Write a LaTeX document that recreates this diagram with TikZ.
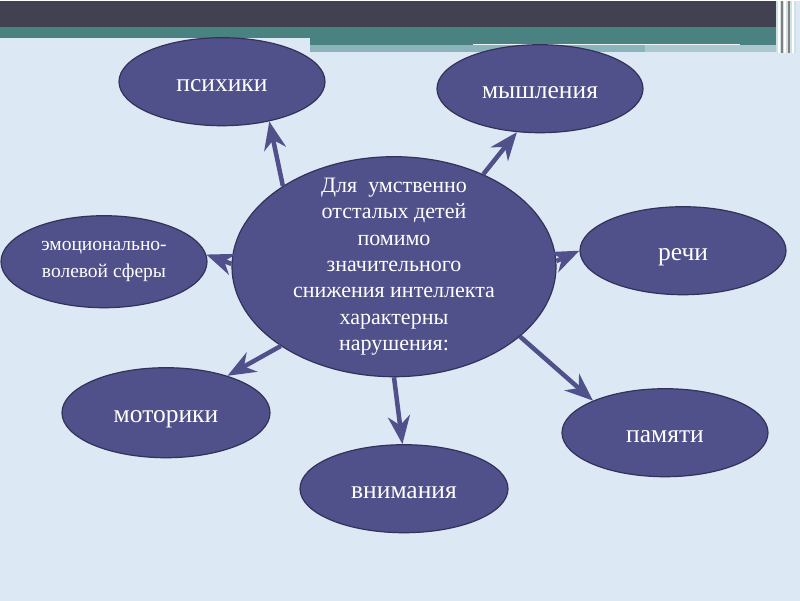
\documentclass[tikz,border=0pt]{standalone}
\usepackage{fontspec}
\setmainfont{Liberation Serif}
\usetikzlibrary{arrows.meta,shapes.geometric}
\definecolor{slidebg}{RGB}{220,232,243}
\definecolor{topdark}{RGB}{65,65,82}
\definecolor{topteal}{RGB}{74,129,129}
\definecolor{toplight}{RGB}{138,179,186}
\definecolor{ovalblue}{RGB}{80,80,138}
\definecolor{ovaledge}{RGB}{50,50,90}
\tikzset{
  oval/.style={
    ellipse,
    draw=ovaledge,
    fill=ovalblue,
    line width=1.2pt,
    inner sep=0pt,
    minimum width=206pt,
    minimum height=88pt,
    align=center,
    text=white,
    font=\fontsize{25.5}{28}\selectfont
  },
  word/.style={oval,text height=20pt,text depth=0pt},
  hub/.style={oval,minimum width=324pt,minimum height=220pt,inner ysep=-45pt,
              font=\fontsize{22}{26.3}\selectfont},
  ray/.style={-{Stealth[length=28pt,width=22pt,inset=9pt]},line width=4.5pt,draw=ovalblue}
}

\begin{document}
\begin{tikzpicture}[x=1pt,y=-1pt]
  % Slide background and header band.
  \fill[slidebg] (0,0) rectangle (800,600);
  \fill[topdark] (0,0) rectangle (776,26);
  \fill[topteal] (0,26) rectangle (776,37);
  \fill[topteal] (310,37) rectangle (776,44);
  \fill[toplight] (310,44) rectangle (645,51);
  \fill[toplight!60!slidebg] (645,44) rectangle (776,51);
  \draw[white!85!toplight,line width=1.5pt] (473,44) -- (740,44);
  \fill[toplight!40!white] (776,0) rectangle (796,52);
  \foreach \xx/\cc in {779/white,782/gray,785/white,789/gray,793/white}
    \draw[\cc,line width=1.4pt] (\xx,0) -- (\xx,52);

  % Central oval.
  \node[hub] (core) at (394,266)
    {Для \ умственно\\отсталых детей\\помимо\\значительного\\снижения интеллекта\\характерны\\нарушения:};

  % Surrounding ovals.
  \node[word] (psy) at (222,81) {психики};
  \node[word] (think) at (540,88) {мышления};
  \node[oval,minimum height=92pt,font=\fontsize{19.5}{27}\selectfont] (emo) at (104,261)
    {эмоционально-\\волевой сферы};
  \node[word] (speech) at (683,250) {речи};
  \node[word,minimum width=208pt,minimum height=90pt] (motor) at (166,412) {моторики};
  \node[word] (memory) at (665,432) {памяти};
  \node[word,minimum width=208pt] (attn) at (404,488) {внимания};

  % Arrows from the centre.
  \draw[ray] (core.144) -- (psy.-40);
  \draw[ray] (core.46) -- (think.-118);
  \draw[ray] (core.2) -- (speech.180);
  \draw[ray] (core.179) -- (emo.4);
  \draw[ray] (core.215) -- (motor.31);
  \draw[ray] (core.-90) -- (attn.92);
  \draw[ray] (core.-29) -- (memory.156);
\end{tikzpicture}
\end{document}
